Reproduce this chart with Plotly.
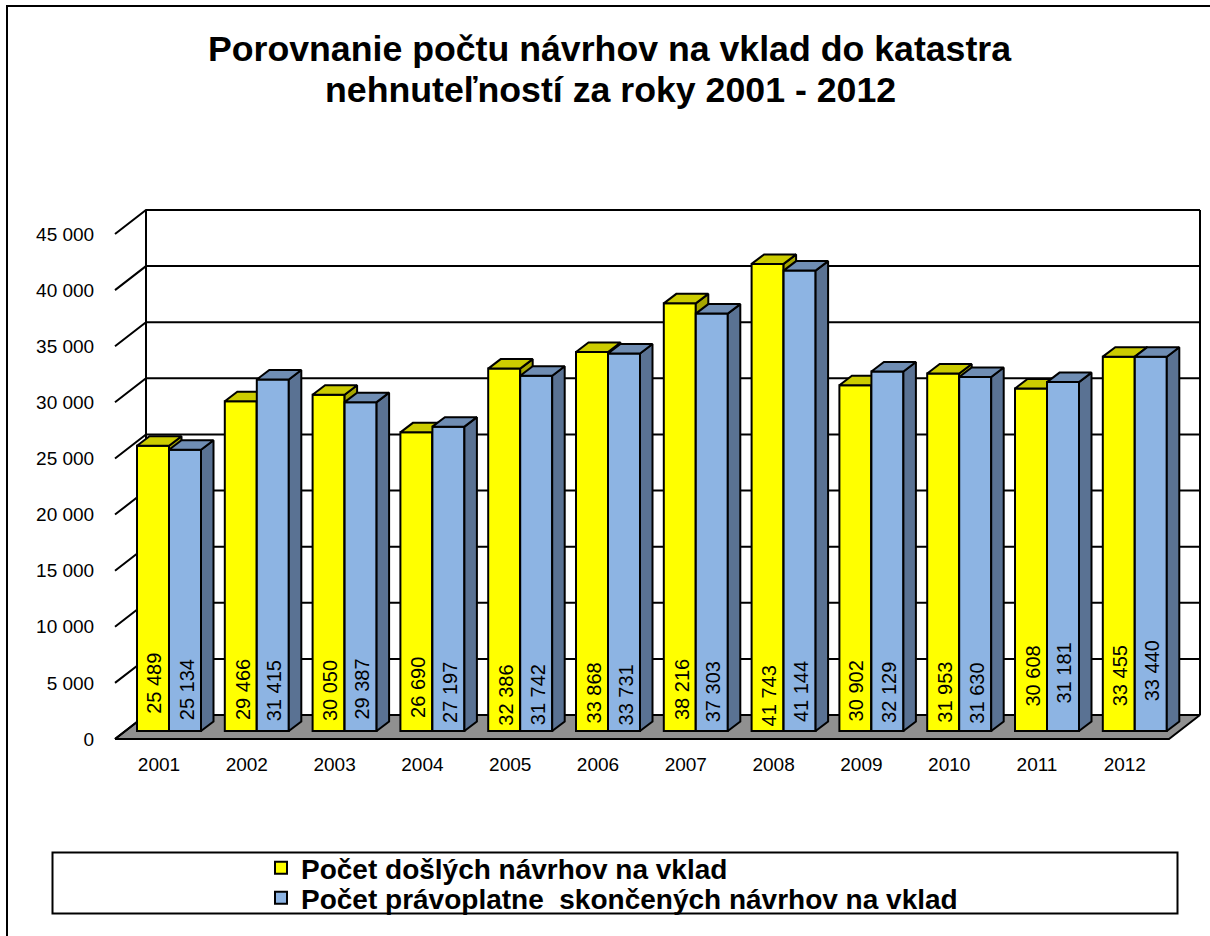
import plotly.graph_objects as go

years = [2001, 2002, 2003, 2004, 2005, 2006, 2007, 2008, 2009, 2010, 2011, 2012]
received = [25489, 29466, 30050, 26690, 32386, 33868, 38216, 41743, 30902, 31953, 30608, 33455]
closed = [25134, 31415, 29387, 27197, 31742, 33731, 37303, 41144, 32129, 31630, 31181, 33440]
tick_values = [0, 5000, 10000, 15000, 20000, 25000, 30000, 35000, 40000, 45000]
tick_labels = ["0", "5 000", "10 000", "15 000", "20 000", "25 000", "30 000", "35 000", "40 000", "45 000"]
name_received = "Počet došlých návrhov na vklad"
name_closed = "Počet právoplatne  skončených návrhov na vklad"
title_line_1 = "Porovnanie počtu návrhov na vklad do katastra"
title_line_2 = "nehnuteľností za roky 2001 - 2012"
# heights of the bar labels on the value axis (they sit where the source placed them)
label_y_received = [4260, 3690, 3575, 3930, 3220, 3400, 3690, 3100, 3620, 3485, 4915, 4915]
label_y_closed = [3690, 3575, 3710, 3485, 3260, 3220, 3485, 3485, 3485, 3400, 5180, 5360]

W, H = 1210, 936
FONT = "Liberation Sans"
PITCH = 87.8              # px per year
BAR_W = 32 / PITCH        # years
S_BAR = 0.01119           # px per unit, bars
S_WALL = 505 / 45000      # px per unit, axis planes
BAR_ZERO = 731
WALL_ZERO = 739


def xr(px_of_2001):
    return [2001 + (0 - px_of_2001) / PITCH, 2001 + (W - px_of_2001) / PITCH]


def yr(zero, s):
    return [(zero - H) / s, zero / s]


def label_text(v):
    return f"{v // 1000} {v % 1000:03d}"


traces = []
# walls and floor, front-plane coordinates
left = 2001 + (115 - 159) / PITCH
right = 2001 + (1169 - 159) / PITCH
dx = 31 / PITCH
dy = 24 / S_WALL
top = tick_values[-1]
traces.append(go.Scatter(
    x=[left, right, right + dx, left + dx, left], y=[0, 0, dy, dy, 0],
    mode="lines", fill="toself", fillcolor="#909090", line=dict(color="black", width=2),
    xaxis="x", yaxis="y", showlegend=False, hoverinfo="skip"))
gx, gy = [], []
for v in tick_values:
    gx += [left, left + dx, right + dx, None]
    gy += [v, v + dy, v + dy, None]
gx += [left + dx, left + dx, None, right + dx, right + dx]
gy += [dy, top + dy, None, dy, top + dy]
traces.append(go.Scatter(x=gx, y=gy, mode="lines", line=dict(color="black", width=2),
                         xaxis="x", yaxis="y", showlegend=False, hoverinfo="skip"))


def bar_set(values, name, face, top_col, side_col, offset, ax, legend):
    w = BAR_W
    bdx = 12.5 / PITCH
    bdy = 9.5 / S_BAR
    out = [go.Bar(x=years, y=values, width=w, offset=offset, name=name, legend=legend,
                  marker=dict(color=face, line=dict(color="black", width=2)),
                  xaxis="x" + ax, yaxis="y" + ax)]
    sx, sy, tx, ty = [], [], [], []
    for yr_, v in zip(years, values):
        x0 = yr_ + offset
        x1 = x0 + w
        sx += [x1, x1 + bdx, x1 + bdx, x1, x1, None]
        sy += [0, bdy, v + bdy, v, 0, None]
        tx += [x0, x0 + bdx, x1 + bdx, x1, x0, None]
        ty += [v, v + bdy, v + bdy, v, v, None]
    for px, py, col in ((sx, sy, side_col), (tx, ty, top_col)):
        out.append(go.Scatter(x=px, y=py, mode="lines", fill="toself", fillcolor=col,
                              line=dict(color="black", width=2),
                              xaxis="x" + ax, yaxis="y" + ax,
                              showlegend=False, hoverinfo="skip"))
    return out


traces += bar_set(received, name_received, "#FFFF00", "#CCCC00", "#A6A600", -BAR_W, "2", "legend")
traces += bar_set(closed, name_closed, "#8DB4E3", "#6F8DB3", "#5A7293", 0, "3", "legend2")

fig = go.Figure(traces)

hidden = dict(visible=False, fixedrange=True)
title_font = dict(family=FONT, size=35.7, color="black", weight="bold")
legend_common = dict(x=261 / W, xanchor="left", yanchor="top", bgcolor="rgba(0,0,0,0)", borderwidth=0,
                     font=dict(family=FONT, size=28, weight="bold", color="black"),
                     itemclick=False, itemdoubleclick=False)
fig.update_layout(
    width=W, height=H, margin=dict(l=0, r=0, t=0, b=0, pad=0),
    paper_bgcolor="white", plot_bgcolor="rgba(0,0,0,0)",
    font=dict(family=FONT, color="black", size=19),
    title=dict(text=title_line_1, x=609.5 / W, xanchor="center", y=1 - 36 / H, yanchor="top", font=title_font),
    xaxis=dict(range=xr(159), tickvals=years, ticktext=[str(y) for y in years], tickmode="array",
               showgrid=False, zeroline=False, showline=False, ticks="outside", ticklen=8,
               tickcolor="rgba(0,0,0,0)", anchor="free", position=1 - WALL_ZERO / H,
               tickfont=dict(size=19), domain=[0, 1]),
    yaxis=dict(range=yr(WALL_ZERO, S_WALL), tickvals=tick_values, ticktext=tick_labels, tickmode="array",
               showgrid=False, zeroline=False, showline=False, ticks="outside", ticklen=17,
               tickcolor="rgba(0,0,0,0)", anchor="free", position=115 / W,
               tickfont=dict(size=19), domain=[0, 1]),
    xaxis2=dict(range=xr(169), overlaying="x", **hidden),
    yaxis2=dict(range=yr(BAR_ZERO, S_BAR), overlaying="y", **hidden),
    xaxis3=dict(range=xr(169), overlaying="x", **hidden),
    yaxis3=dict(range=yr(BAR_ZERO, S_BAR), overlaying="y", **hidden),
    showlegend=True,
    legend=dict(y=1 - 843 / H, **legend_common),
    legend2=dict(y=1 - 873 / H, **legend_common),
    hovermode=False,
    shapes=[
        dict(type="rect", xref="paper", yref="paper", x0=7 / W, x1=1.02, y0=1 - 6 / H, y1=-0.02,
             line=dict(color="black", width=2), layer="below"),
        dict(type="rect", xref="paper", yref="paper", x0=52.5 / W, x1=1177.5 / W, y0=1 - 852.5 / H, y1=1 - 913.5 / H,
             line=dict(color="black", width=2), layer="below"),
    ],
)
fig.add_annotation(x=610.5 / W, y=1 - 90 / H, xref="paper", yref="paper", text=title_line_2, showarrow=False,
                   xanchor="center", yanchor="middle", font=title_font)

for vals, ys, off in ((received, label_y_received, -BAR_W / 2), (closed, label_y_closed, BAR_W / 2)):
    for yr_, v, ly in zip(years, vals, ys):
        fig.add_annotation(x=yr_ + off, y=ly, xref="x2", yref="y2", text=label_text(v), textangle=-90, xshift=1.5,
                           showarrow=False, font=dict(family=FONT, size=20, color="black"))

fig.write_html("out.html", config={"displayModeBar": False},
               post_script="document.body.style.margin='0';document.body.style.overflow='hidden';")
